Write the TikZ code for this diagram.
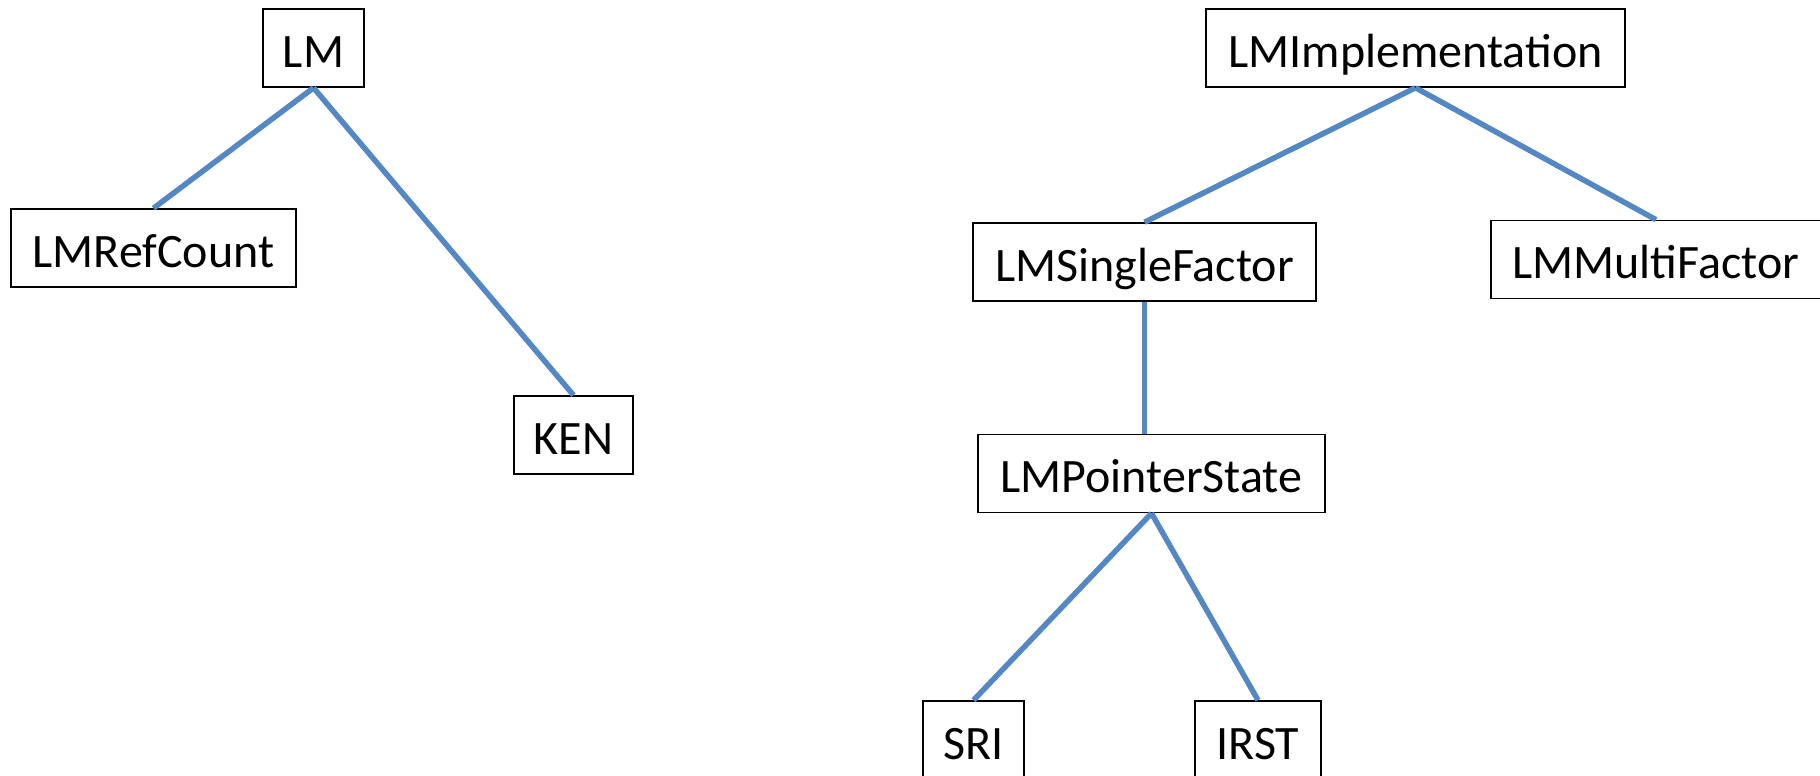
\documentclass[tikz,border=0pt]{standalone}
\usepackage{fontspec}
\setmainfont{Carlito}
\definecolor{linkblue}{RGB}{84,136,196}
\tikzset{
  box/.style={draw=black, line width=1.6pt, fill=white, inner sep=0pt,
    minimum height=78pt, text height=38pt, text depth=0pt,
    font=\fontsize{48}{57}\selectfont},
  link/.style={draw=linkblue, line width=5.5pt}
}
\begin{document}
\begin{tikzpicture}[x=1pt,y=-1pt]
\useasboundingbox (0,0) rectangle (1820,776);

% left tree
\node[box, minimum width=101pt] (lm)  at (313.5,48)  {LM};
\node[box, minimum width=285pt] (ref) at (153.5,248) {LMRefCount};
\node[box, minimum width=119pt] (ken) at (573.5,435) {KEN};

% right tree
\node[box, minimum width=419pt] (impl)   at (1415.5,48)  {LMImplementation};
\node[box, minimum width=343pt] (single) at (1144.5,262) {LMSingleFactor};
\node[box, minimum width=330pt] (multi)  at (1656,259.5) {LMMultiFactor};
\node[box, minimum width=347pt] (ptr)    at (1151.5,473.5) {LMPointerState};
\node[box, minimum width=101pt] (sri)    at (973.5,740)  {SRI};
\node[box, minimum width=126pt] (irst)   at (1258,740)   {IRST};

% connectors
\draw[link] (lm.south) -- (ref.north);
\draw[link] (lm.south) -- (ken.north);
\draw[link] (impl.south) -- (single.north);
\draw[link] (impl.south) -- (multi.north);
\draw[link] (single.south) -- (single.south |- ptr.north);
\draw[link] (ptr.south) -- (sri.north);
\draw[link] (ptr.south) -- (irst.north);
\end{tikzpicture}
\end{document}
